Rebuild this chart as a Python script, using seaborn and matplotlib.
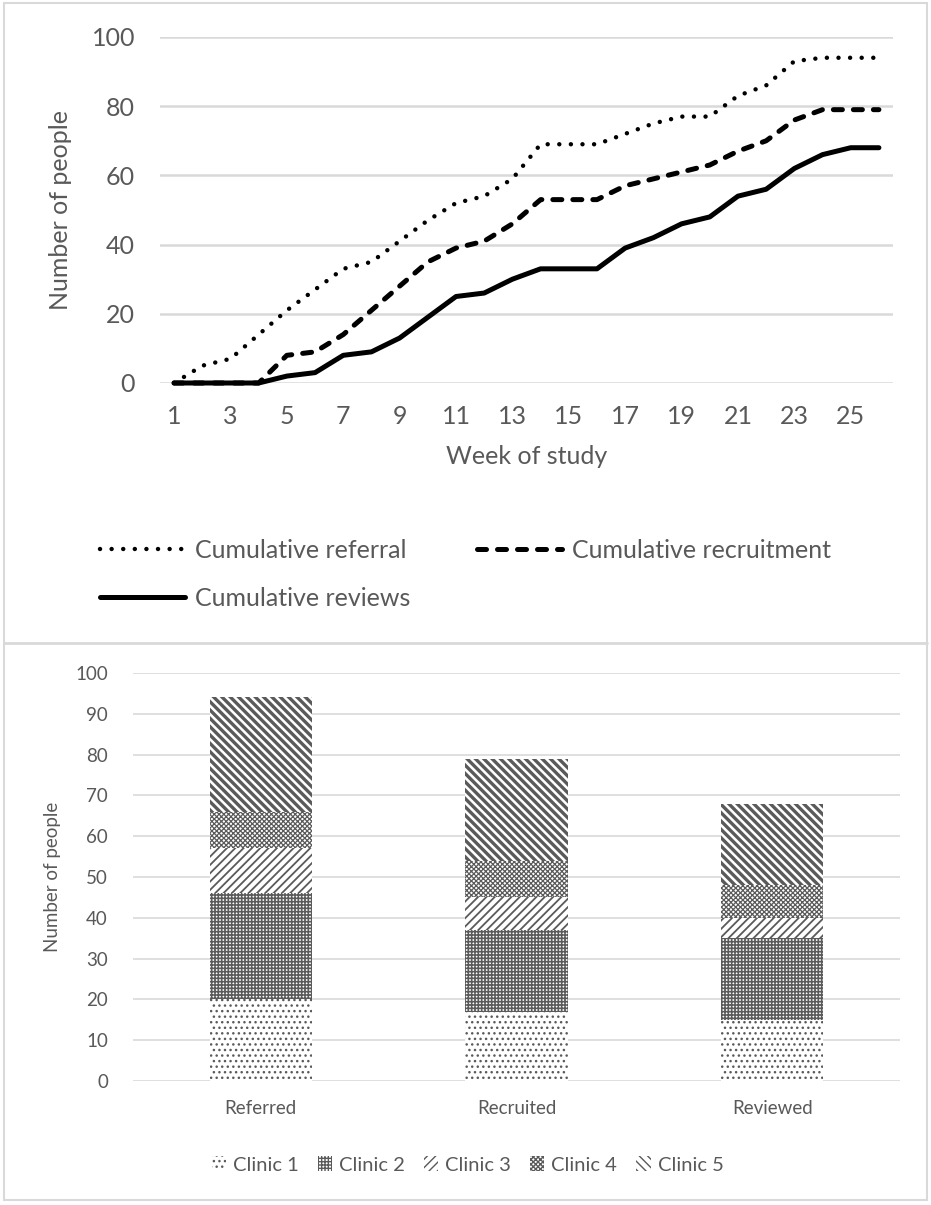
import matplotlib
matplotlib.use("Agg")
import numpy as np
import pandas as pd
import matplotlib.pyplot as plt
import seaborn as sns
from matplotlib.patches import Rectangle, Patch
from matplotlib.lines import Line2D

# top panel: cumulative counts per week
weeks = list(range(1, 27))
referral = [0, 5, 7, 14, 21, 27, 33, 35, 41, 47, 52, 54, 59, 69, 69, 69, 72, 75, 77, 77, 83, 86, 93, 94, 94, 94]
recruitment = [0, 0, 0, 0, 8, 9, 14, 21, 28, 35, 39, 41, 46, 53, 53, 53, 57, 59, 61, 63, 67, 70, 76, 79, 79, 79]
reviews = [0, 0, 0, 0, 2, 3, 8, 9, 13, 19, 25, 26, 30, 33, 33, 33, 39, 42, 46, 48, 54, 56, 62, 66, 68, 68]

# bottom panel: people per clinic at each stage
stages = ["Referred", "Recruited", "Reviewed"]
clinics = ["Clinic 1", "Clinic 2", "Clinic 3", "Clinic 4", "Clinic 5"]
clinic1 = [20, 17, 15]
clinic2 = [26, 20, 20]
clinic3 = [11, 8, 5]
clinic4 = [9, 9, 8]
clinic5 = [28, 25, 20]

sns.set_style("white")
plt.rcParams["font.family"] = ["Lato", "DejaVu Sans"]

TXT = "#595959"
GRID = "#d9d9d9"
HATCH = "#5a5a5a"

W, H = 931, 1205
fig = plt.figure(figsize=(W / 100, H / 100), dpi=100)

# ---------------- line chart ----------------
ax1 = fig.add_axes([160 / W, 1 - 383 / H, 733 / W, 346 / H])
line_df = pd.DataFrame({"week": weeks, "referral": referral,
                        "recruitment": recruitment, "reviews": reviews})

sns.lineplot(data=line_df, x="week", y="referral", ax=ax1, color="black", lw=3.2,
             linestyle=(0, (0.01, 2.6)), dash_capstyle="round", clip_on=False)
sns.lineplot(data=line_df, x="week", y="recruitment", ax=ax1, color="black", lw=3.6,
             linestyle=(0, (1.8, 2.2)), dash_capstyle="round", clip_on=False)
sns.lineplot(data=line_df, x="week", y="reviews", ax=ax1, color="black", lw=3.6,
             solid_capstyle="round", solid_joinstyle="round", clip_on=False)

ax1.set_xlim(0.5, 26.5)
ax1.set_ylim(0, 100)
ax1.set_xticks(range(1, 26, 2))
ax1.set_yticks(range(0, 101, 20))
ax1.yaxis.grid(True, color=GRID, lw=1.8)
ax1.set_axisbelow(True)
sns.despine(ax=ax1, left=True, bottom=True)
ax1.tick_params(length=0, labelsize=18, colors=TXT)
ax1.tick_params(axis="y", pad=18)
ax1.tick_params(axis="x", pad=16)
ax1.set_xlabel("Week of study", fontsize=18, color=TXT, labelpad=12)
ax1.set_ylabel("Number of people", fontsize=18, color=TXT, labelpad=14)

l_ref, l_rec, l_rev = ax1.get_lines()[:3]
fig.legend([l_ref, l_rev, l_rec],
           ["Cumulative referral", "Cumulative reviews", "Cumulative recruitment"],
           ncol=2, loc="upper left", bbox_to_anchor=(100 / W, 1 - 539 / H),
           frameon=False, fontsize=18, labelcolor=TXT, handlelength=3.4,
           handletextpad=0.4, columnspacing=2.65, labelspacing=1.0,
           borderpad=0, borderaxespad=0)

# ---------------- stacked bar chart ----------------
ax2 = fig.add_axes([133 / W, 1 - 1081 / H, 767 / W, 408 / H])
bar_df = pd.DataFrame({"stage": stages, "Clinic 1": clinic1, "Clinic 2": clinic2,
                       "Clinic 3": clinic3, "Clinic 4": clinic4, "Clinic 5": clinic5})
cum = bar_df[clinics].cumsum(axis=1)

hatches = {"Clinic 1": "...", "Clinic 2": "+++++", "Clinic 3": "////",
           "Clinic 4": "xxxxxxx", "Clinic 5": "\\\\\\\\"}
hatch_lw = {"Clinic 1": 1.0, "Clinic 2": 1.15, "Clinic 3": 1.3,
            "Clinic 4": 0.9, "Clinic 5": 2.4}

# draw tallest first so each lower segment covers the one above
for name in reversed(clinics):
    with plt.rc_context({"hatch.linewidth": hatch_lw[name], "hatch.color": HATCH}):
        sns.barplot(x=bar_df["stage"], y=cum[name], ax=ax2, color="white",
                    saturation=1, width=0.4, edgecolor=HATCH, linewidth=0,
                    hatch=hatches[name])

ax2.set_ylim(0, 100)
ax2.set_xlim(-0.5, 2.5)
ax2.set_yticks(range(0, 101, 10))
ax2.yaxis.grid(True, color=GRID, lw=1.2)
ax2.set_axisbelow(True)
sns.despine(ax=ax2, left=True, bottom=True)
ax2.tick_params(length=0, labelsize=13.5, colors=TXT)
ax2.tick_params(axis="y", pad=18)
ax2.tick_params(axis="x", pad=14)
ax2.set_xlabel("")
ax2.set_ylabel("Number of people", fontsize=13.5, color=TXT, labelpad=10)

handles = []
for name in clinics:
    with plt.rc_context({"hatch.linewidth": hatch_lw[name], "hatch.color": HATCH}):
        handles.append(Patch(facecolor="white", edgecolor=HATCH, linewidth=0,
                             hatch=hatches[name]))
fig.legend(handles, clinics, ncol=5, loc="center left",
           bbox_to_anchor=(212 / W, 1 - 1165 / H), frameon=False, fontsize=14.5,
           labelcolor=TXT, handlelength=0.7, handleheight=0.7, handletextpad=0.35,
           columnspacing=0.95, borderpad=0, borderaxespad=0)

# panel frames
fig.add_artist(Rectangle((4 / W, 5 / H), 923 / W, 1197 / H, transform=fig.transFigure,
                         fill=False, ec=GRID, lw=1.5))
fig.add_artist(Line2D([4 / W, 927 / W], [1 - 643 / H, 1 - 643 / H],
                      transform=fig.transFigure, color=GRID, lw=2))

fig.savefig("out.png", dpi=100)
